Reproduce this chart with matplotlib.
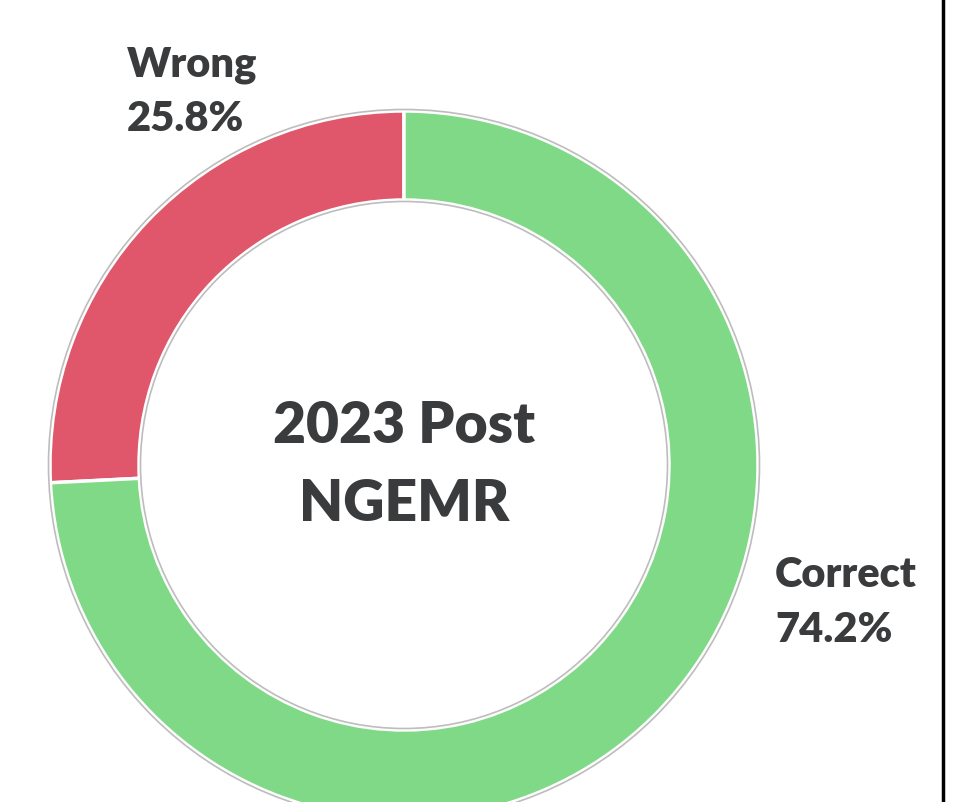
import matplotlib
matplotlib.use("Agg")
import matplotlib.pyplot as plt
from matplotlib.patches import Circle

# data
labels = ["Wrong", "Correct"]
shares = [25.8, 74.2]
colors = ["#E0566B", "#80D986"]
center_lines = ["2023 Post", "NGEMR"]

W, H = 970, 803
TEXT_COLOR = "#3A3B3D"

plt.rcParams["font.family"] = ["Lato", "DejaVu Sans"]

fig = plt.figure(figsize=(W / 100, H / 100), dpi=100)
ax = fig.add_axes([0, 0, 1, 1])

cx, cy = 404, 466
R = 354
ring = 89

# y axis is inverted below, so clockwise in data = counter-clockwise on screen
ax.pie(
    shares, colors=colors, center=(cx, cy), radius=R,
    startangle=-90, counterclock=False,
    wedgeprops=dict(width=ring, edgecolor="white", linewidth=2.5),
    frame=True,
)
ax.set_xlim(0, W)
ax.set_ylim(H, 0)
ax.set_aspect("equal")
ax.axis("off")

# thin grey outlines of the ring
for rr in (R + 1.5, R - ring - 1.5):
    ax.add_patch(Circle((cx, cy), rr, fill=False, edgecolor="#BDBDBD", linewidth=1.2))

txt = dict(fontweight="heavy", color=TEXT_COLOR, va="baseline")
ax.text(cx, 443, center_lines[0], ha="center", fontsize=41, **txt)
ax.text(cx, 521, center_lines[1], ha="center", fontsize=41, **txt)

ax.text(127, 76, labels[0], ha="left", fontsize=30, **txt)
ax.text(127, 131, f"{shares[0]:.1f}%", ha="left", fontsize=30, **txt)
ax.text(775, 587, labels[1], ha="left", fontsize=30, **txt)
ax.text(775, 642, f"{shares[1]:.1f}%", ha="left", fontsize=30, **txt)

# right border line
ax.plot([943, 943], [0, H], color="black", linewidth=2.5, solid_capstyle="butt")

fig.savefig("out.png", dpi=100, facecolor="white")
